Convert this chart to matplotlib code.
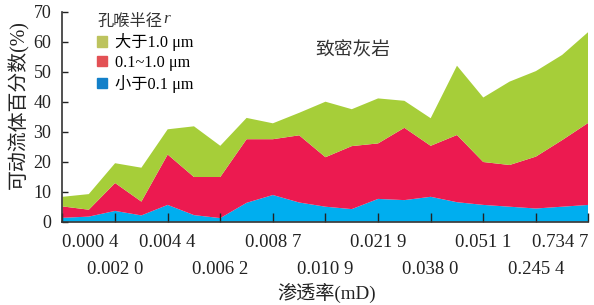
import numpy as np
import matplotlib
matplotlib.use('Agg')
import matplotlib.pyplot as plt
from matplotlib.patches import Patch

plt.rcParams['font.family'] = ['Liberation Serif', 'Noto Sans CJK SC']

# permeability samples (mD), one tick label per two samples
perm_labels = ['0.000 4', '0.002 0', '0.004 4', '0.006 2', '0.008 7', '0.010 9',
               '0.021 9', '0.038 0', '0.051 1', '0.245 4', '0.734 7']
# movable fluid share (%) by pore-throat radius
small = [1.3, 1.7, 3.6, 2.1, 5.6, 2.2, 1.2, 6.3, 8.9, 6.4, 5.0,
         4.2, 7.6, 7.2, 8.3, 6.5, 5.6, 5.0, 4.4, 5.0, 5.6]
mid = [3.8, 2.3, 9.3, 4.6, 16.8, 12.7, 13.7, 21.2, 18.6, 22.4, 16.5,
       21.0, 18.5, 24.1, 17.0, 22.4, 14.3, 13.9, 17.3, 22.2, 27.4]
large = [3.2, 5.2, 6.6, 11.3, 8.4, 16.9, 10.4, 7.1, 5.3, 7.5, 18.5,
         12.3, 15.0, 9.0, 9.2, 23.1, 21.5, 27.8, 28.5, 28.4, 30.3]
series_names = ['大于1.0 μm', '0.1~1.0 μm', '小于0.1 μm']

x = np.arange(len(small))

fig = plt.figure(figsize=(5.94, 3.05), dpi=100)
ax = fig.add_axes([0.1052, 0.2731, 0.8855, 0.6885])

ax.stackplot(x, small, mid, large, colors=['#00aeef', '#ec1a50', '#a6ce39'], lw=0)

ax.set_xlim(0, 20)
ax.set_ylim(0, 70)
ax.spines['top'].set_visible(False)
ax.spines['right'].set_visible(False)
for s in ['left', 'bottom']:
    ax.spines[s].set_color('#333333')
    ax.spines[s].set_linewidth(1.2)

ax.set_yticks(range(0, 71, 10))
ax.tick_params(axis='y', direction='in', length=4, width=1, pad=8, labelsize=13, colors='#222222')

# two rows of tick labels: majors on row 1, minors on row 2
ax.set_xticks(x[::4])
ax.set_xticklabels(perm_labels[::2])
ax.set_xticks(x[2::4], minor=True)
ax.set_xticklabels(perm_labels[1::2], minor=True)
ax.tick_params(axis='x', which='both', direction='in', length=6.5, width=1, labelsize=13.5, colors='#222222')
ax.tick_params(axis='x', which='major', pad=9)
ax.tick_params(axis='x', which='minor', pad=28)
lbls = ax.get_xticklabels()
lbls[0].set_ha('left')
lbls[-1].set_ha('right')

ax.set_ylabel('可动流体百分数(%)', fontsize=14.3, color='#222222')
ax.yaxis.set_label_coords(-0.063, 0.56)
ax.set_xlabel('渗透率(mD)', fontsize=13.8, color='#222222')
ax.xaxis.set_label_coords(0.502, -0.292)

ax.text(0.552, 0.815, '致密灰岩', transform=ax.transAxes, fontsize=13.5,
        ha='center', va='center', color='#333333')

handles = [Patch(color=c) for c in ['#bdc35e', '#e35155', '#1380c9']]
leg = ax.legend(handles, series_names, title='孔喉半径', loc='upper left',
                bbox_to_anchor=(0.066, 0.99), frameon=False, fontsize=11.7,
                title_fontsize=11.7, handlelength=0.6, handleheight=0.6,
                handletextpad=0.5, labelspacing=0.22, borderpad=0, borderaxespad=0,
                alignment='left')
leg.get_title().set_color('#333333')

# italic r right after the legend title, placed once the layout is known
fig.canvas.draw()
bb = leg.get_title().get_window_extent()
fig.text(bb.x1 + 1, bb.y0 + 3, 'r', transform=None, ha='left', va='bottom',
         fontsize=12.5, style='italic', color='#333333')

fig.savefig('out.png', dpi=100)
